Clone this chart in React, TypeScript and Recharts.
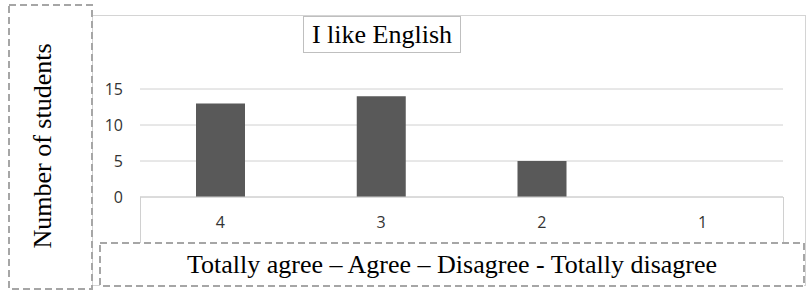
import React from 'react';
import { BarChart, Bar, XAxis, YAxis, CartesianGrid } from 'recharts';

const categories = ['4', '3', '2', '1'];
const students = [13, 14, 5, 0];
const yTicks = [0, 5, 10, 15];
const chartTitle = 'I like English';
const yTitle = 'Number of students';
const xTitle = 'Totally agree \u2013 Agree \u2013 Disagree - Totally disagree';

const data = categories.map((c, i) => ({ category: c, students: students[i] }));

const W = 808;
const H = 292;
const serif = '"Liberation Serif", "Times New Roman", serif';
const tickFont = { fill: '#333333', fontSize: 16, fontFamily: '"Open Sans", sans-serif' };

export default function App() {
  return (
    <div style={{ position: 'absolute', left: 0, top: 0, width: W, height: H, background: '#fff' }}>
      <svg width={W} height={H} style={{ position: 'absolute', left: 0, top: 0 }}>
        <rect x={92.5} y={15.5} width={713} height={270} fill="#fff" stroke="#d4d4d4" strokeWidth={1} />
      </svg>
      <div style={{ position: 'absolute', left: 0, top: 0 }}>
        <BarChart width={W} height={H} data={data} margin={{ top: 89, right: 25, bottom: 50, left: 100 }}>
          <CartesianGrid vertical={false} stroke="#d0d0d0" />
          <XAxis
            dataKey="category"
            axisLine={{ stroke: '#d0d0d0' }}
            tickLine={false}
            tickSize={0}
            tickMargin={20}
            height={45}
            tick={tickFont}
          />
          <YAxis
            domain={[0, 15]}
            ticks={yTicks}
            axisLine={false}
            tickLine={false}
            tickSize={0}
            tickMargin={17}
            width={40}
            tick={tickFont}
          />
          <Bar dataKey="students" fill="#595959" barSize={49} isAnimationActive={false} />
        </BarChart>
      </div>
      <svg width={W} height={H} style={{ position: 'absolute', left: 0, top: 0 }}>
        <line x1={140.5} y1={197} x2={140.5} y2={243} stroke="#d0d0d0" />
        <line x1={783.5} y1={197} x2={783.5} y2={243} stroke="#d0d0d0" />
        <rect x={303.5} y={16.5} width={157} height={36} fill="#fff" stroke="#bfbfbf" />
        <text x={382} y={43} textAnchor="middle" fontFamily={serif} fontSize={26} fill="#000">
          {chartTitle}
        </text>
        <rect x={9} y={5} width={83} height={284} fill="none" stroke="#a6a6a6" strokeWidth={2} strokeDasharray="7 4" />
        <text
          x={0}
          y={0}
          transform="translate(51,146) rotate(-90)"
          textAnchor="middle"
          fontFamily={serif}
          fontSize={26}
          fill="#000"
        >
          {yTitle}
        </text>
        <rect x={100} y={243} width={704} height={43} fill="#fff" stroke="#a6a6a6" strokeWidth={2} strokeDasharray="7 4" />
        <text x={452} y={273} textAnchor="middle" fontFamily={serif} fontSize={26} fill="#000">
          {xTitle}
        </text>
      </svg>
    </div>
  );
}
